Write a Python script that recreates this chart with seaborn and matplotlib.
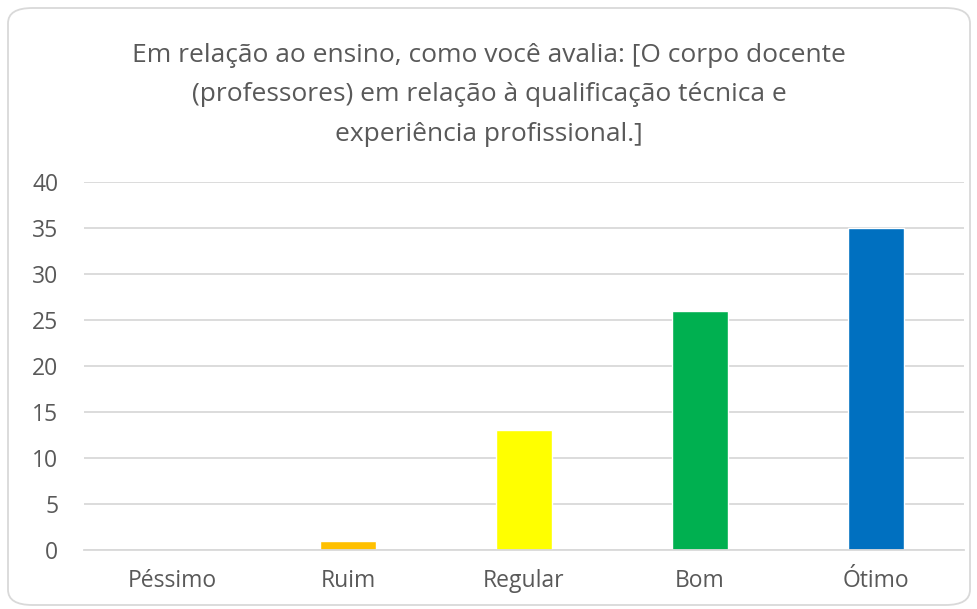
import matplotlib
matplotlib.use("Agg")
import matplotlib.pyplot as plt
import seaborn as sns
import pandas as pd
from matplotlib.patches import FancyBboxPatch

categories = ["Péssimo", "Ruim", "Regular", "Bom", "Ótimo"]
values = [0, 1, 13, 26, 35]
colors = ["#A5A5A5", "#FFC000", "#FFFF00", "#00B050", "#0070C0"]
yticks = [0, 5, 10, 15, 20, 25, 30, 35, 40]
title = ("Em relação ao ensino, como você avalia: [O corpo docente\n"
         "(professores) em relação à qualificação técnica e\n"
         "experiência profissional.]")

sns.set_style("white")
plt.rcParams['font.family'] = ['Open Sans', 'DejaVu Sans']

df = pd.DataFrame({"cat": categories, "val": values})

fig = plt.figure(figsize=(9.78, 6.09), dpi=100)
ax = fig.add_axes([84/978, (609-549.7)/609, 880/978, (549.7-181.7)/609])

sns.barplot(data=df, x="cat", y="val", hue="cat", palette=colors, legend=False,
            width=0.32, ax=ax, saturation=1)

ax.set_ylim(0, 40)
ax.set_xlim(-0.5, 4.5)
ax.set_yticks(yticks)
ax.set_yticklabels([str(t) for t in yticks])
ax.yaxis.grid(True, color="#D9D9D9", linewidth=1.3)
ax.set_axisbelow(True)
for s in ["top", "right", "left"]:
    ax.spines[s].set_visible(False)
ax.spines["bottom"].set_color("#D9D9D9")
ax.spines["bottom"].set_linewidth(1.3)
ax.tick_params(axis="both", length=0, labelsize=16.5, colors="#595959")
ax.tick_params(axis="x", pad=14)
ax.tick_params(axis="y", pad=18.5)
ax.set_xlabel("")
ax.set_ylabel("")

fig.text(0.5, 1 - 43/609, title, ha="center", va="top", fontsize=19,
         color="#595959", linespacing=1.76)

border = FancyBboxPatch((8/978, 4/609), 962/978, 597/609,
                        boxstyle="round,pad=0,rounding_size=0.025",
                        transform=fig.transFigure, facecolor="none",
                        edgecolor="#D9D9D9", linewidth=1.3)
fig.patches.append(border)

fig.savefig("out.png", dpi=100)
